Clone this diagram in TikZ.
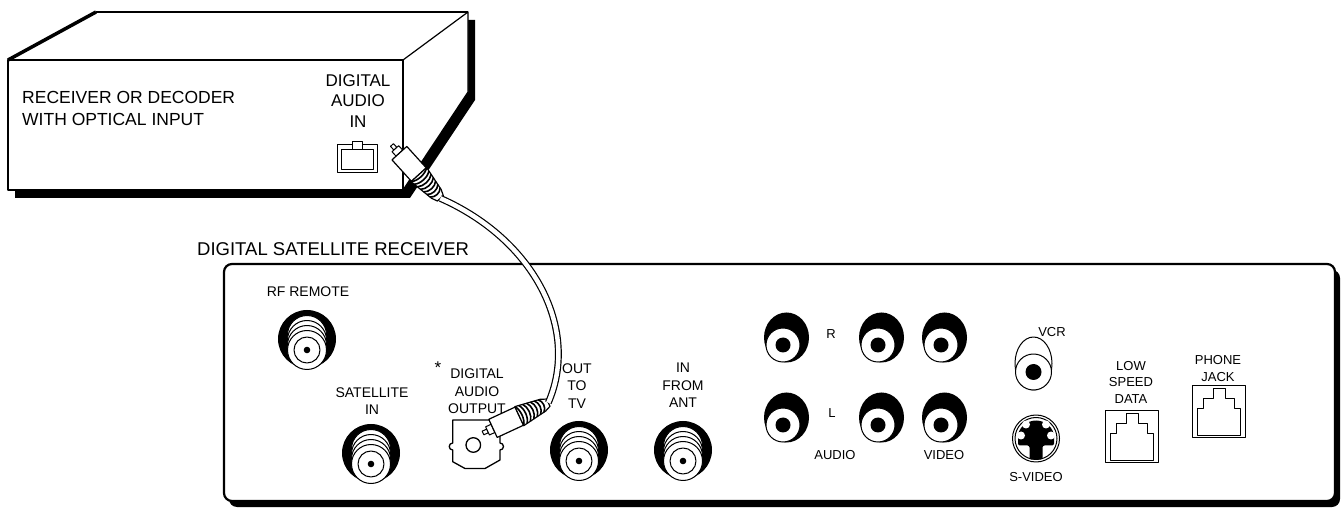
\documentclass[tikz,border=0pt]{standalone}
\usepackage{fontspec}
\setmainfont{Liberation Sans}

\begin{document}
\begin{tikzpicture}[x=1pt,y=-1pt,line join=round,
  every node/.style={inner sep=0pt,align=center},
  boxlabel/.style={font=\fontsize{17.5}{22}\selectfont},
  portlabel/.style={font=\fontsize{14}{17.5}\selectfont},
  jacklabel/.style={font=\fontsize{13}{16.5}\selectfont},
  edge/.style={line width=1pt},
  cable/.style={line width=1.2pt,double=white,double distance=4.5pt}]

  \useasboundingbox (0,0) rectangle (1342,510);

  % receiver or decoder box, shadow first
  \fill (15,68) -- (103,20) -- (475,20) -- (475,100) -- (410,198) -- (15,198) -- cycle;
  \fill[white] (8,60) -- (96,12) -- (468,12) -- (468,92) -- (403,190) -- (8,190) -- cycle;
  \draw[line width=2.5pt] (8,60) rectangle (403,190);
  \draw[line width=3.5pt] (8,60) -- (96,12);
  \draw[line width=2.5pt] (96,12) -- (468,12);
  \draw[line width=1.2pt] (403,60) -- (468,12) -- (468,92) -- (403,190);
  \node[boxlabel,anchor=west,align=left] (decoder) at (22,108.5) {RECEIVER OR DECODER\\WITH OPTICAL INPUT};
  \node[font=\fontsize{17}{20.5}\selectfont] (inlabel) at (358,101) {DIGITAL\\AUDIO\\IN};

  % optical input
  \draw[edge,fill=white] (337,145) rectangle (377,173);
  \draw[edge] (341,149.5) rectangle (373,169.5);
  \draw[edge,fill=white] (352,142) rectangle (362,149.5);

  % digital satellite receiver
  \fill[rounded corners=8] (229,270) rectangle (1340,507);
  \draw[line width=2.2pt,fill=white,rounded corners=8] (224,264) rectangle (1335,501);
  \node[font=\fontsize{18.5}{18.5}\selectfont,anchor=west] (dsr) at (197,249.5) {DIGITAL SATELLITE RECEIVER};

  % coax connectors
  \foreach \x/\y/\n in {307/350/rf, 371/464/sat, 579/461/tv, 683/461/ant} {
    \fill (\x,\y-11) circle[radius=29];
    \foreach \d in {15,10,5,0}
      \draw[edge,fill=white] (\x,\y-\d) circle[radius=19.5];
    \draw[edge] (\x,\y) circle[radius=13];
    \fill (\x,\y) circle[radius=3.3];
    \coordinate (\n) at (\x,\y);
  }
  \node[portlabel] (rflabel) at (308,292) {RF REMOTE};
  \node[portlabel] (satlabel) at (372,401) {SATELLITE\\IN};
  \node[font=\fontsize{17}{17}\selectfont] (star) at (438,368) {*};
  \node[portlabel] (outlabel) at (477,391.5) {DIGITAL\\AUDIO\\OUTPUT};
  \node[portlabel] (tvlabel) at (577,386) {OUT\\TO\\TV};
  \node[portlabel] (antlabel) at (683,385.5) {IN\\FROM\\ANT};

  % optical output
  \draw[line width=1.3pt,fill=white] (452.7,420) -- (500,420) -- (500,443)
    arc[start angle=270,end angle=450,radius=3.5] -- (500,460) -- (485,468.5)
    -- (465,468.5) -- (452.7,461.7) -- (452.7,450)
    arc[start angle=90,end angle=270,radius=3.5] -- cycle;
  \draw[line width=1.3pt] (473.3,445) circle[radius=7.3];

  % audio and video jacks
  \foreach \x/\y in {783/345, 878/345, 941/345, 783/425, 878/425, 941/425} {
    \fill (\x+3.5,\y-7.5) ellipse[x radius=22.5,y radius=25];
    \draw[edge,fill=white] (\x,\y) circle[radius=17];
    \fill (\x,\y) circle[radius=7.5];
  }
  \node[jacklabel] (rlabel) at (831,334) {R};
  \node[jacklabel] (llabel) at (832,413) {L};
  \node[jacklabel] (audiolabel) at (835,455) {AUDIO};
  \node[jacklabel] (videolabel) at (944,455) {VIDEO};

  % vcr jack
  \draw[edge] (1033.5,363.5) ellipse[x radius=18.5,y radius=26.5];
  \draw[edge,fill=white] (1033.5,372) circle[radius=18];
  \fill (1033.5,372) circle[radius=8];
  \node[jacklabel] (vcrlabel) at (1052,332) {VCR};

  % s-video jack
  \draw[edge] (1036,438.5) circle[radius=23.5];
  \draw[edge] (1036,438.5) circle[radius=21];
  \fill[rounded corners=2pt] (1018,438.5) arc[start angle=180,end angle=360,radius=18]
    -- (1054,445.5) -- (1042.5,445.5) -- (1042.5,459.5) -- (1029.5,459.5)
    -- (1029.5,445.5) -- (1018,445.5) -- cycle;
  \foreach \dx/\dy in {-10/-14, 10/-14, -15/-3, 15/-3}
    \fill[white] (1036+\dx,438.5+\dy) circle[radius=4];
  \node[jacklabel] (svideolabel) at (1036,477) {S-VIDEO};

  % phone style jacks
  \foreach \x/\y in {1132/437, 1219/412} {
    \draw[edge] (\x-26.7,\y-26) rectangle (\x+26.7,\y+26);
    \draw[edge] (\x-21.7,\y+24) -- (\x-21.7,\y-3.4) -- (\x-15.7,\y-3.4) -- (\x-15.7,\y-13.4)
      -- (\x-6,\y-13.4) -- (\x-6,\y-23.4) -- (\x+6,\y-23.4) -- (\x+6,\y-13.4)
      -- (\x+15.7,\y-13.4) -- (\x+15.7,\y-3.4) -- (\x+21.7,\y-3.4) -- (\x+21.7,\y+24) -- cycle;
  }
  \node[jacklabel] (datalabel) at (1131,382) {LOW\\SPEED\\DATA};
  \node[jacklabel] (phonelabel) at (1218,368.5) {PHONE\\JACK};

  % optical plugs, tip first
  \foreach \x/\y/\a/\n in {392/145/-47.8/inplug, 483/433/24.9/outplug} {
    \begin{scope}[shift={(\x,\y)},rotate=\a]
      \draw[edge,fill=white] (0,-2) rectangle (5,2);
      \draw[edge,fill=white] (5,-4.5) rectangle (11,4.5);
      \draw[line width=1.2pt,fill=white] (11,-10) rectangle (40,10);
      \draw[line width=1.2pt,fill=white] (40,-10.5) -- (66,-6.5) -- (72,-4) -- (72,4) -- (66,6.5) -- (40,10.5) -- cycle;
      \foreach \u/\h in {40/10.5, 44/9.9, 48/9.3, 52/8.7, 56/8.1, 60/7.5, 64/6.9}
        \draw[line width=1.6pt] (\u,-\h) .. controls (\u+4,-\h/2) and (\u+4,\h/2) .. (\u,\h);
      \coordinate (\n) at (72,0);
    \end{scope}
  }

  % fiber cable
  \draw[cable] (inplug) .. controls (535,240) and (580,330) .. (outplug);
\end{tikzpicture}
\end{document}
